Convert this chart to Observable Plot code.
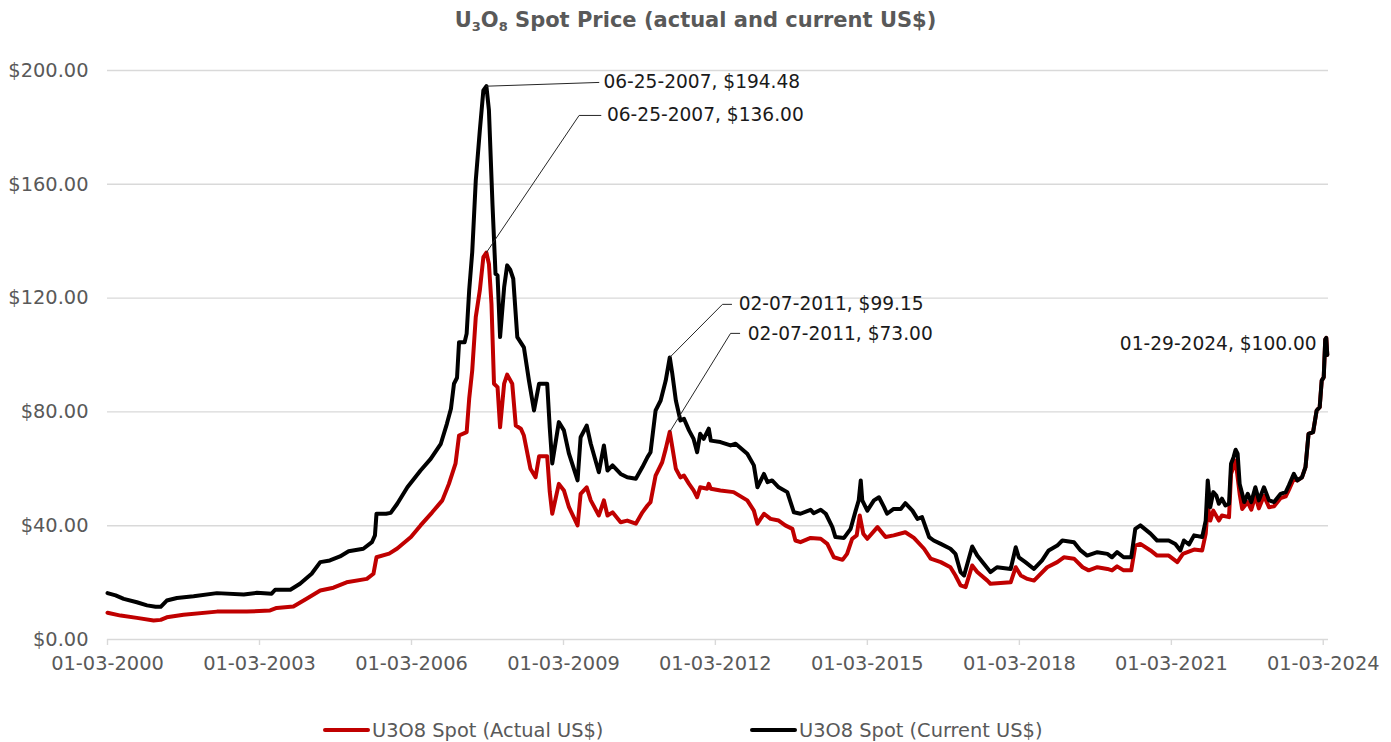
<!DOCTYPE html>
<html><head><meta charset="utf-8">
<script src="https://cdn.jsdelivr.net/npm/d3@7"></script>
<script src="https://cdn.jsdelivr.net/npm/@observablehq/plot@0.6"></script>
<style>
html,body{margin:0;padding:0;background:#fff;font-family:"DejaVu Sans",sans-serif;}
#title{height:40px;line-height:40px;text-align:center;font-weight:bold;font-size:21px;color:#595959;white-space:nowrap;}
#title sub{font-size:0.62em;vertical-align:-0.3em;line-height:0;}
#legend{position:relative;height:40px;font-size:19.4px;color:#595959;}
.item{position:absolute;top:0;height:40px;display:flex;align-items:center;white-space:nowrap;}
.sw{display:inline-block;width:47px;height:4px;border-radius:2px;margin-right:2px;}
</style></head><body>
<div id="title">U<sub>3</sub>O<sub>8</sub> Spot Price (actual and current US$)</div>
<div id="chart"></div>
<div id="legend"></div>
<script>
// ---- data (decimal year, US$) ----
const currentSeries = [
[2000.00,16.3],[2000.16,15.5],[2000.32,14.3],[2000.58,13.1],[2000.78,12.0],[2000.95,11.5],[2001.05,11.5],[2001.17,13.7],[2001.37,14.6],[2001.70,15.2],
[2002.16,16.3],[2002.69,15.8],[2002.95,16.4],[2003.24,16.1],[2003.31,17.5],[2003.61,17.5],[2003.80,19.6],[2004.03,23.1],[2004.20,27.2],[2004.39,27.8],
[2004.59,29.2],[2004.76,31.0],[2005.05,31.9],[2005.22,34.2],[2005.28,36.6],[2005.31,44.2],[2005.50,44.2],[2005.59,44.5],[2005.72,47.7],[2005.92,53.5],
[2006.18,59.4],[2006.38,63.5],[2006.58,68.8],[2006.70,75.8],[2006.78,81.1],[2006.84,89.9],[2006.90,92.0],[2006.94,104.5],[2007.05,104.5],[2007.09,107.5],
[2007.14,122.7],[2007.20,136.1],[2007.27,161.3],[2007.35,178.9],[2007.42,193.0],[2007.48,194.48],[2007.53,186.0],[2007.60,153.0],[2007.66,128.5],[2007.70,128.0],
[2007.75,106.3],[2007.83,123.8],[2007.89,131.5],[2007.95,130.0],[2008.01,126.8],[2008.09,106.3],[2008.22,102.7],[2008.32,91.0],[2008.42,80.5],[2008.52,89.9],
[2008.68,89.9],[2008.73,74.6],[2008.78,61.9],[2008.91,76.4],[2009.01,73.5],[2009.11,65.3],[2009.28,55.9],[2009.34,71.1],[2009.46,75.2],[2009.54,68.8],
[2009.70,58.8],[2009.80,68.2],[2009.87,59.4],[2009.97,61.2],[2010.13,58.2],[2010.26,57.0],[2010.43,56.5],[2010.56,60.6],[2010.66,64.1],[2010.72,65.8],
[2010.82,80.5],[2010.92,84.0],[2011.02,91.0],[2011.10,99.15],[2011.15,93.4],[2011.22,84.0],[2011.31,77.0],[2011.38,77.6],[2011.48,73.5],[2011.57,70.5],
[2011.64,65.8],[2011.70,72.3],[2011.77,70.5],[2011.87,74.1],[2011.91,69.9],[2012.10,69.4],[2012.30,68.2],[2012.40,68.8],[2012.63,65.3],[2012.76,61.2],
[2012.83,53.5],[2012.96,58.2],[2013.03,55.3],[2013.12,55.9],[2013.25,53.5],[2013.42,51.8],[2013.55,44.7],[2013.68,44.2],[2013.88,45.6],[2013.94,44.4],
[2014.08,45.6],[2014.18,44.2],[2014.31,39.5],[2014.37,36.0],[2014.54,35.7],[2014.67,38.9],[2014.77,45.3],[2014.83,48.9],[2014.87,55.9],[2014.90,48.9],
[2015.00,45.3],[2015.13,48.9],[2015.23,50.0],[2015.33,46.5],[2015.39,44.2],[2015.52,45.9],[2015.66,45.9],[2015.75,47.9],[2015.89,45.3],[2015.99,42.4],
[2016.08,43.0],[2016.22,36.0],[2016.31,34.8],[2016.45,33.6],[2016.64,31.9],[2016.74,30.1],[2016.84,23.7],[2016.91,22.5],[2017.07,32.7],[2017.17,29.5],
[2017.30,26.6],[2017.43,23.7],[2017.56,25.4],[2017.83,24.8],[2017.93,32.4],[2017.99,28.9],[2018.12,27.2],[2018.29,24.8],[2018.45,27.8],[2018.58,31.3],
[2018.75,33.0],[2018.85,34.8],[2019.08,34.2],[2019.21,31.3],[2019.34,29.5],[2019.54,30.7],[2019.74,30.1],[2019.83,28.9],[2019.93,30.7],[2020.06,28.9],
[2020.21,28.9],[2020.29,38.9],[2020.39,40.1],[2020.59,37.2],[2020.72,34.8],[2020.95,34.8],[2021.08,33.6],[2021.18,31.3],[2021.25,34.8],[2021.35,33.4],
[2021.45,36.6],[2021.61,36.0],[2021.68,41.8],[2021.72,55.9],[2021.77,46.5],[2021.83,51.8],[2021.89,50.6],[2021.94,47.7],[2022.00,49.5],[2022.07,47.1],
[2022.14,47.7],[2022.18,61.8],[2022.23,64.1],[2022.27,66.7],[2022.31,65.3],[2022.35,54.7],[2022.40,51.2],[2022.44,48.3],[2022.51,51.2],[2022.58,48.3],
[2022.66,53.5],[2022.73,48.9],[2022.83,53.5],[2022.93,48.9],[2023.03,48.3],[2023.16,51.2],[2023.26,51.8],[2023.32,54.1],[2023.42,58.2],[2023.49,55.9],
[2023.58,57.0],[2023.65,60.6],[2023.71,72.3],[2023.80,72.9],[2023.87,80.5],[2023.93,81.7],[2023.97,91.0],[2024.01,92.2],[2024.04,105.5],[2024.06,106.0],
[2024.08,100.0]
];
const actualSeries = [
[2000.00,9.4],[2000.26,8.4],[2000.58,7.6],[2000.91,6.7],[2001.05,6.9],[2001.17,7.8],[2001.50,8.7],[2002.16,9.8],[2002.75,9.8],[2003.21,10.2],
[2003.34,11.1],[2003.67,11.6],[2003.93,14.3],[2004.20,17.2],[2004.46,18.2],[2004.72,20.1],[2005.12,21.3],[2005.25,23.1],[2005.31,28.9],[2005.56,30.2],
[2005.72,32.0],[2005.99,36.0],[2006.18,40.1],[2006.41,44.7],[2006.61,48.9],[2006.74,54.7],[2006.87,61.8],[2006.94,71.7],[2007.09,72.9],[2007.14,84.6],
[2007.20,94.6],[2007.27,113.3],[2007.35,122.7],[2007.42,134.4],[2007.48,136.0],[2007.53,132.0],[2007.58,118.0],[2007.63,89.9],[2007.70,88.7],[2007.75,74.6],
[2007.83,89.9],[2007.89,93.1],[2007.99,89.9],[2008.06,75.2],[2008.16,74.1],[2008.22,71.7],[2008.29,65.3],[2008.35,60.0],[2008.45,57.0],[2008.52,64.4],
[2008.68,64.4],[2008.73,52.0],[2008.78,44.2],[2008.91,54.7],[2009.01,52.4],[2009.11,46.5],[2009.28,40.1],[2009.34,51.2],[2009.46,53.5],[2009.54,48.9],
[2009.70,43.6],[2009.80,48.9],[2009.87,43.6],[2009.97,44.7],[2010.13,41.2],[2010.26,41.8],[2010.43,40.7],[2010.56,44.7],[2010.66,47.1],[2010.72,48.3],
[2010.82,57.6],[2010.95,62.3],[2011.02,67.0],[2011.10,73.0],[2011.15,67.6],[2011.22,60.0],[2011.31,57.0],[2011.38,57.6],[2011.48,54.7],[2011.57,52.4],
[2011.64,50.0],[2011.70,53.5],[2011.84,53.0],[2011.87,54.7],[2011.91,53.0],[2012.10,52.4],[2012.36,51.8],[2012.63,48.9],[2012.76,45.3],[2012.83,40.7],
[2012.96,44.2],[2013.09,42.4],[2013.25,41.8],[2013.38,40.1],[2013.52,38.9],[2013.58,34.8],[2013.68,34.2],[2013.88,35.7],[2014.08,35.4],[2014.21,33.6],
[2014.34,28.9],[2014.51,28.0],[2014.60,30.1],[2014.70,35.4],[2014.79,36.6],[2014.85,43.6],[2014.92,37.2],[2015.00,35.4],[2015.20,39.5],[2015.36,36.0],
[2015.52,36.6],[2015.75,37.7],[2015.92,35.7],[2016.12,31.9],[2016.25,28.4],[2016.45,27.2],[2016.64,25.4],[2016.74,22.5],[2016.84,19.0],[2016.94,18.4],
[2017.07,26.0],[2017.17,23.7],[2017.37,20.7],[2017.43,19.6],[2017.83,20.1],[2017.93,25.4],[2018.03,22.5],[2018.16,21.3],[2018.29,20.7],[2018.55,25.4],
[2018.75,27.2],[2018.88,28.9],[2019.08,28.4],[2019.25,25.4],[2019.37,24.3],[2019.54,25.4],[2019.74,24.8],[2019.83,24.3],[2019.93,25.7],[2020.06,24.3],
[2020.21,24.3],[2020.29,33.0],[2020.39,33.6],[2020.59,31.3],[2020.72,29.5],[2020.95,29.5],[2021.12,27.2],[2021.23,30.1],[2021.45,31.6],[2021.61,31.3],
[2021.68,37.2],[2021.72,47.0],[2021.77,41.8],[2021.83,45.3],[2021.94,41.8],[2022.00,43.6],[2022.14,43.0],[2022.18,58.2],[2022.27,62.9],[2022.35,51.2],
[2022.40,45.9],[2022.51,48.3],[2022.58,45.6],[2022.66,50.5],[2022.73,46.1],[2022.83,50.5],[2022.93,46.5],[2023.03,46.8],[2023.16,49.7],[2023.26,50.3],
[2023.32,52.5],[2023.42,56.5],[2023.49,55.9],[2023.58,57.0],[2023.65,60.6],[2023.71,72.3],[2023.80,72.9],[2023.87,80.5],[2023.93,81.7],[2023.97,91.0],
[2024.01,92.2],[2024.04,105.5],[2024.06,106.0],[2024.08,100.0]
];
const yTicks = [0, 40, 80, 120, 160, 200];
const xTickYears = [2000, 2003, 2006, 2009, 2012, 2015, 2018, 2021, 2024];
const seriesNames = ["U3O8 Spot (Actual US$)", "U3O8 Spot (Current US$)"];
const seriesColors = ["#c00000", "#000000"];
// annotations: label, anchor [year, value], leader path points, text position
const annLabels = ["06-25-2007, $194.48", "06-25-2007, $136.00", "02-07-2011, $99.15", "02-07-2011, $73.00", "01-29-2024, $100.00"];
const annAnchors = [[2007.48,194.48],[2007.48,136.0],[2011.10,99.15],[2011.10,73.0],[2024.08,100.0]];
const annElbows  = [null,[2009.31,184.2],[2012.14,117.8],[2012.30,107.6],null];
const annEnds    = [[2009.70,195.8],[2009.74,184.2],[2012.32,117.8],[2012.48,107.6],null];
const annText    = [[2009.79,195.8],[2009.86,184.2],[2012.46,117.8],[2012.64,107.3],[2023.87,103.7]];
const annAnchorSide = ["start","start","start","start","end"];

// ---- helpers ----
const t0 = Date.UTC(2000, 0, 3);
const toDate = y => new Date(t0 + (y - 2000) * 365.25 * 864e5);
const actual = actualSeries.map(([y, v]) => ({date: toDate(y), value: v}));
const current = currentSeries.map(([y, v]) => ({date: toDate(y), value: v}));
const xTicks = xTickYears.map(y => new Date(Date.UTC(y, 0, 3)));

const leaders = [];
annLabels.forEach((lab, i) => {
  if (!annEnds[i]) return;
  const pts = [annAnchors[i], annElbows[i], annEnds[i]].filter(Boolean);
  pts.forEach(p => leaders.push({k: i, date: toDate(p[0]), value: p[1]}));
});
const texts = annLabels.map((lab, i) => ({label: lab, date: toDate(annText[i][0]), value: annText[i][1], anchor: annAnchorSide[i]}));

const W = 1391, H = 670;
const chart = Plot.plot({
  width: W, height: H,
  marginLeft: 107, marginRight: 63, marginTop: 30, marginBottom: 71,
  style: {fontFamily: "DejaVu Sans, sans-serif", fontSize: "19.4px", background: "#fff", overflow: "visible"},
  x: {type: "utc", domain: [new Date(Date.UTC(2000,0,3)), new Date(Date.UTC(2024,1,10))]},
  y: {domain: [0, 200]},
  marks: [
    Plot.ruleY(yTicks, {stroke: "#d9d9d9", strokeWidth: 1.4}),
    Plot.axisY({ticks: yTicks, tickFormat: d => "$" + d.toFixed(2), tickSize: 0, tickPadding: 19, fill: "#595959", label: null}),
    Plot.axisX({ticks: xTicks, tickFormat: d3.utcFormat("%m-%d-%Y"), tickSize: 6, tickPadding: 11, stroke: "#d9d9d9", strokeWidth: 1.4, fill: "#595959", label: null}),
    Plot.line(actual, {x: "date", y: "value", stroke: seriesColors[0], strokeWidth: 4, strokeLinejoin: "round", strokeLinecap: "round"}),
    Plot.line(current, {x: "date", y: "value", stroke: seriesColors[1], strokeWidth: 4, strokeLinejoin: "round", strokeLinecap: "round"}),
    Plot.line(leaders, {x: "date", y: "value", z: "k", stroke: "#262626", strokeWidth: 1}),
    Plot.text(texts.filter(d => d.anchor === "start"), {x: "date", y: "value", text: "label", textAnchor: "start", fill: "#1a1a1a", fontSize: 18.6}),
    Plot.text(texts.filter(d => d.anchor === "end"), {x: "date", y: "value", text: "label", textAnchor: "end", fill: "#1a1a1a", fontSize: 18.6})
  ]
});
document.getElementById("chart").appendChild(chart);

// legend
const legend = document.getElementById("legend");
const lefts = [323, 750];
seriesNames.forEach((n, i) => {
  const it = document.createElement("div");
  it.className = "item";
  it.style.left = lefts[i] + "px";
  const sw = document.createElement("span");
  sw.className = "sw"; sw.style.background = seriesColors[i];
  it.appendChild(sw);
  it.appendChild(document.createTextNode(n));
  legend.appendChild(it);
});
</script>
</body></html>
